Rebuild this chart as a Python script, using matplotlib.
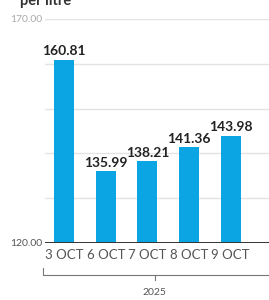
import matplotlib.pyplot as plt

# data
dates = ["3 OCT", "6 OCT", "7 OCT", "8 OCT", "9 OCT"]
prices = [160.81, 135.99, 138.21, 141.36, 143.98]
year = "2025"
unit = "per litre"

bar_color = "#0aa5e2"

plt.rcParams["font.family"] = ["Lato", "DejaVu Sans"]

fig = plt.figure(figsize=(2.69, 3.0), dpi=100)
ax = fig.add_axes([45 / 269, 57 / 300, 224 / 269, 224 / 300])

x = list(range(len(dates)))
ax.bar(x, prices, width=0.48, color=bar_color, zorder=2)

ax.set_ylim(120, 170)
ax.set_xlim(-0.46, 4.46 + 0.46)

# faint grid lines
for v in [130, 140, 150, 160, 170]:
    ax.axhline(v, color="#e3e3e3", lw=1, zorder=1)
ax.axhline(120, color="#333333", lw=1.4, zorder=3)

for s in ax.spines.values():
    s.set_visible(False)

ax.set_yticks([120, 170])
ax.set_yticklabels(["120.00", "170.00"], fontsize=7.5)
ax.get_yticklabels()[0].set_color("#555555")
ax.get_yticklabels()[1].set_color("#aaaaaa")
ax.tick_params(axis="y", length=0, pad=2)

ax.set_xticks(x)
ax.set_xticklabels(dates, fontsize=9.5, color="#555555")
ax.tick_params(axis="x", length=0, pad=4)

# value labels
for xi, v in zip(x, prices):
    ax.text(xi, v + 0.6, f"{v:.2f}", ha="center", va="bottom",
            fontsize=10, fontweight="bold", color="#222222")

# year bracket
ax.plot([-0.01, -0.01, 1.0], [-0.11, -0.143, -0.143], transform=ax.transAxes,
        color="#777777", lw=0.8, clip_on=False)
ax.plot([0.49, 0.49], [-0.143, -0.165], transform=ax.transAxes,
        color="#777777", lw=0.8, clip_on=False)
ax.text(0.49, -0.2, year, transform=ax.transAxes, ha="center", va="top",
        fontsize=7.5, color="#555555")

# title partially cut off at top
fig.text(20 / 269, 0.998, unit, ha="left", va="center",
         fontsize=10.5, fontweight="bold", color="#333333")

fig.savefig("out.png", dpi=100)
